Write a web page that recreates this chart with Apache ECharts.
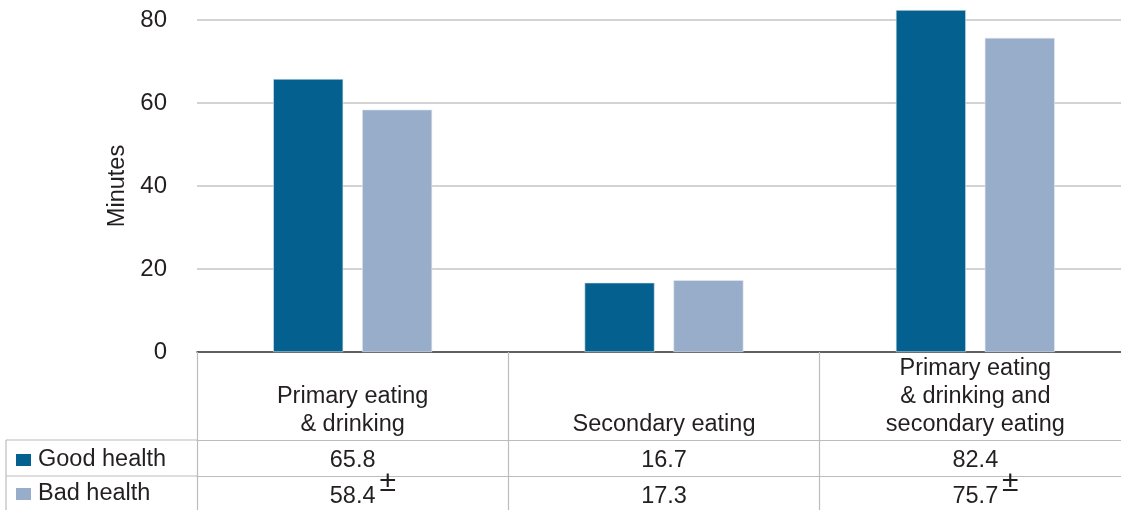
<!DOCTYPE html>
<html>
<head>
<meta charset="utf-8">
<script src="https://cdn.jsdelivr.net/npm/echarts@6/dist/echarts.min.js"></script>
<style>
  html, body { margin: 0; padding: 0; background: #fff; }
  #chart { width: 1121px; height: 510px; }
</style>
</head>
<body>
<div id="chart"></div>
<script>
// Time spent eating, by self-reported health
const categories = [
  'Primary eating\n& drinking',
  'Secondary eating',
  'Primary eating\n& drinking and\nsecondary eating'
];
const seriesNames = ['Good health', 'Bad health'];
const goodHealth = [65.8, 16.7, 82.4];
const badHealth = [58.4, 17.3, 75.7];
// marks a statistically significant difference between the two groups
const significance = ['±', '', '±'];
const yTicks = { min: 0, max: 80, interval: 20 };

const DARK = '#03608f';
const LIGHT = '#97adc9';
const TEXT = '#231f20';
const RULE = '#bcbcbc';
const FONT = 'Liberation Sans, Arial, Helvetica, sans-serif';
const FS = 23.5;

// plot geometry
const G = { left: 197, top: 20, width: 934, height: 332 };
const axisY = G.top + G.height;      // 352
const row1 = axisY + 88;             // 440
const row2 = axisY + 124;            // 476
const tableBottom = 512;
const tableLeft = 6;

const chart = echarts.init(document.getElementById('chart'), null, { renderer: 'canvas' });

function valueAxis(values, offset) {
  return {
    type: 'category',
    gridIndex: 0,
    data: categories,
    position: 'bottom',
    offset: offset,
    axisLine: { show: true, lineStyle: { color: RULE, width: 1.2 } },
    axisTick: { show: false },
    axisLabel: {
      interval: 0,
      margin: 9,
      verticalAlign: 'top',
      fontSize: FS,
      lineHeight: 24,
      fontFamily: FONT,
      color: TEXT,
      formatter: (v, i) => values[i].toFixed(1)
    }
  };
}

function legendRow(name, top) {
  return {
    data: [name],
    left: 16,
    top: top,
    padding: 0,
    icon: 'rect',
    itemWidth: 15,
    itemHeight: 12,
    selectedMode: false,
    itemStyle: { borderWidth: 0 },
    textStyle: { fontSize: FS, color: TEXT, fontFamily: FONT, padding: [0, 0, 0, 2] }
  };
}

chart.setOption({
  animation: false,
  backgroundColor: '#fff',
  textStyle: { fontFamily: FONT },
  grid: {
    left: G.left, top: G.top, width: G.width, height: G.height,
    containLabel: false, outerBoundsMode: 'none'
  },
  legend: [legendRow(seriesNames[0], row1 + 8), legendRow(seriesNames[1], row2 + 6)],
  xAxis: [
    {
      type: 'category',
      data: categories,
      position: 'bottom',
      axisLine: { show: true, lineStyle: { color: '#3b3b3b', width: 1.5 } },
      axisTick: {
        show: true,
        alignWithLabel: false,
        interval: 0,
        length: tableBottom - axisY,
        lineStyle: { color: RULE, width: 1.2 }
      },
      axisLabel: {
        interval: 0,
        margin: 87,
        verticalAlign: 'bottom',
        fontSize: FS,
        lineHeight: 28,
        fontFamily: FONT,
        color: TEXT,
        align: 'center'
      },
      splitLine: { show: false }
    },
    valueAxis(goodHealth, row1 - axisY),
    valueAxis(badHealth, row2 - axisY)
  ],
  yAxis: {
    type: 'value',
    min: yTicks.min,
    max: yTicks.max,
    interval: yTicks.interval,
    name: 'Minutes',
    nameLocation: 'middle',
    nameGap: 62,
    nameTextStyle: { fontSize: FS, color: TEXT, fontFamily: FONT },
    axisLine: { show: false },
    axisTick: { show: false },
    axisLabel: { fontSize: 24, color: TEXT, fontFamily: FONT, margin: 30 },
    splitLine: { lineStyle: { color: '#c4c4c4', width: 1.5 } }
  },
  series: [
    {
      name: seriesNames[0],
      type: 'bar',
      data: goodHealth,
      clip: false,
      barWidth: 70,
      barGap: '27%',
      itemStyle: { color: DARK, borderColor: '#dce6ef', borderWidth: 0.6 }
    },
    {
      name: seriesNames[1],
      type: 'bar',
      data: badHealth,
      clip: false,
      barWidth: 70,
      barGap: '27%',
      itemStyle: { color: LIGHT, borderColor: '#e3e9f1', borderWidth: 0.6 }
    }
  ]
});

// Legend column of the data table, and significance markers beside the values
const graphics = [
  { type: 'line', shape: { x1: tableLeft, y1: row1, x2: G.left, y2: row1 }, style: { stroke: RULE, lineWidth: 1.2 } },
  { type: 'line', shape: { x1: tableLeft, y1: row2, x2: G.left, y2: row2 }, style: { stroke: RULE, lineWidth: 1.2 } },
  { type: 'line', shape: { x1: tableLeft, y1: row1, x2: tableLeft, y2: tableBottom }, style: { stroke: RULE, lineWidth: 1.2 } }
];
significance.forEach((mark, i) => {
  if (!mark) return;
  const px = chart.convertToPixel({ xAxisIndex: 0 }, i);
  graphics.push({
    type: 'text',
    x: px + 35,
    y: row2 + 7,
    style: { text: mark, fontSize: 30, fill: TEXT, fontFamily: FONT, align: 'center', verticalAlign: 'middle' },
    z: 10
  });
});
chart.setOption({ graphic: graphics });
</script>
</body>
</html>
